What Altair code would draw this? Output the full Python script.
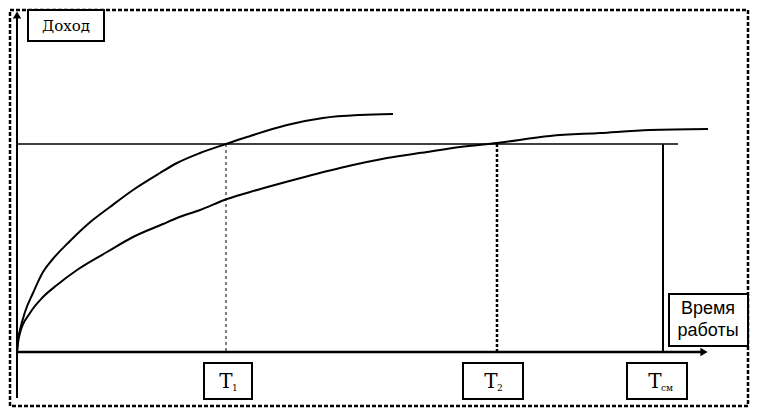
import altair as alt
import pandas as pd

# Curve points (reference pixel coordinates; y grows downward)
c1_x = [17, 18, 20, 25, 33, 43, 52, 70, 88, 110, 133, 160, 177, 200, 226, 247, 287, 323, 360, 393]
c1_y = [352, 340, 330, 312, 293, 272, 260, 241, 224, 207, 190, 173, 163, 153, 144, 137, 125, 118, 115, 114]
c2_x = [17, 18, 20, 30, 43, 57, 77, 107, 133, 163, 177, 200, 227, 257, 297, 340, 387, 427, 460, 497, 550, 600, 650, 708]
c2_y = [352, 343, 333, 313, 297, 285, 270, 252, 237, 224, 218, 210, 199, 190, 179, 168, 158, 152, 147, 143, 136, 133, 130, 129]

level_y = 144
axis_x0, axis_y0 = 17, 352
t_x = [226, 497, 663]
t_labels = ["T", "T", "T"]
t_subs = ["1", "2", "см"]
box_x = [204, 463, 627]
box_x2 = [252, 523, 687]

SERIF = "DejaVu Serif"

X = alt.Scale(domain=[8, 750], nice=False, zero=False)
Y = alt.Scale(domain=[8, 408], nice=False, zero=False, reverse=True)

def enc(**kw):
    out = {}
    for k, v in kw.items():
        if k == "x":
            out[k] = alt.X(v, type="quantitative", scale=X, axis=None)
        elif k == "x2":
            out[k] = alt.X2(v)
        elif k == "y":
            out[k] = alt.Y(v, type="quantitative", scale=Y, axis=None)
        elif k == "y2":
            out[k] = alt.Y2(v)
        else:
            out[k] = v
    return out

curves = pd.DataFrame(
    {"x": c1_x + c2_x, "y": c1_y + c2_y, "s": ["a"] * len(c1_x) + ["b"] * len(c2_x)}
)
curve_layer = alt.Chart(curves).mark_line(color="black", strokeWidth=2, interpolate="monotone").encode(
    **enc(x="x", y="y"), detail="s:N"
)

border = alt.Chart(pd.DataFrame({"x": [10], "x2": [748], "y": [10], "y2": [406]})).mark_rect(
    fill=None, stroke="black", strokeWidth=2.5, strokeDash=[4, 2]
).encode(**enc(x="x", x2="x2", y="y", y2="y2"))

yaxis = alt.Chart(pd.DataFrame({"x": [axis_x0], "y": [398], "y2": [16]})).mark_rule(
    color="black", strokeWidth=2
).encode(**enc(x="x", y="y", y2="y2"))
xaxis = alt.Chart(pd.DataFrame({"x": [axis_x0], "x2": [702], "y": [axis_y0]})).mark_rule(
    color="black", strokeWidth=2.5
).encode(**enc(x="x", x2="x2", y="y"))
arrow_up = alt.Chart(pd.DataFrame({"x": [axis_x0], "y": [15]})).mark_point(
    shape="triangle-up", filled=True, color="black", size=70, opacity=1
).encode(**enc(x="x", y="y"))
arrow_right = alt.Chart(pd.DataFrame({"x": [704], "y": [axis_y0]})).mark_point(
    shape="triangle-right", filled=True, color="black", size=70, opacity=1
).encode(**enc(x="x", y="y"))

level = alt.Chart(pd.DataFrame({"x": [axis_x0], "x2": [678], "y": [level_y]})).mark_rule(
    color="black", strokeWidth=1.5
).encode(**enc(x="x", x2="x2", y="y"))

v1 = alt.Chart(pd.DataFrame({"x": [t_x[0]], "y": [level_y], "y2": [axis_y0]})).mark_rule(
    color="black", strokeWidth=1, strokeDash=[3, 3]
).encode(**enc(x="x", y="y", y2="y2"))
v2 = alt.Chart(pd.DataFrame({"x": [t_x[1]], "y": [level_y], "y2": [axis_y0]})).mark_rule(
    color="black", strokeWidth=2.5, strokeDash=[3, 2]
).encode(**enc(x="x", y="y", y2="y2"))
v3 = alt.Chart(pd.DataFrame({"x": [t_x[2]], "y": [level_y], "y2": [axis_y0]})).mark_rule(
    color="black", strokeWidth=2
).encode(**enc(x="x", y="y", y2="y2"))

boxes = pd.DataFrame({
    "x": box_x + [28, 669],
    "x2": box_x2 + [104, 748],
    "y": [363, 363, 363, 10, 294],
    "y2": [399, 399, 399, 41, 346],
})
box_layer = alt.Chart(boxes).mark_rect(fill="white", stroke="black", strokeWidth=2).encode(
    **enc(x="x", x2="x2", y="y", y2="y2")
)

tdf = pd.DataFrame({"x": [(a + b) / 2 - 2 for a, b in zip(box_x, box_x2)], "t": t_labels, "s": t_subs, "y": [382] * 3})
t_main = alt.Chart(tdf).mark_text(font=SERIF, fontSize=20, color="black", baseline="middle").encode(
    **enc(x="x", y="y"), text="t:N"
)
t_sub = alt.Chart(tdf).mark_text(font=SERIF, fontSize=9, color="black", align="left",
                                 baseline="middle", dx=6, dy=6).encode(**enc(x="x", y="y"), text="s:N")

title_df = pd.DataFrame({"x": [66], "y": [26], "t": ["Доход"]})
title_txt = alt.Chart(title_df).mark_text(font=SERIF, fontSize=15, color="black",
                                          baseline="middle").encode(**enc(x="x", y="y"), text="t:N")

xl_df = pd.DataFrame({"x": [708, 708], "y": [309, 331], "t": ["Время", "работы"]})
xl_txt = alt.Chart(xl_df).mark_text(font="Liberation Sans Narrow, Liberation Sans", fontSize=18, color="black",
                                    baseline="middle").encode(**enc(x="x", y="y"), text="t:N")

chart = alt.layer(
    border, level, v1, v2, v3, curve_layer, xaxis, yaxis, arrow_up, arrow_right,
    box_layer, t_main, t_sub, title_txt, xl_txt
).properties(width=742, height=400, padding=0, autosize=alt.AutoSizeParams(type="none")).configure_view(stroke=None)

chart.save("out.html", embed_options={"renderer": "svg", "actions": False})
